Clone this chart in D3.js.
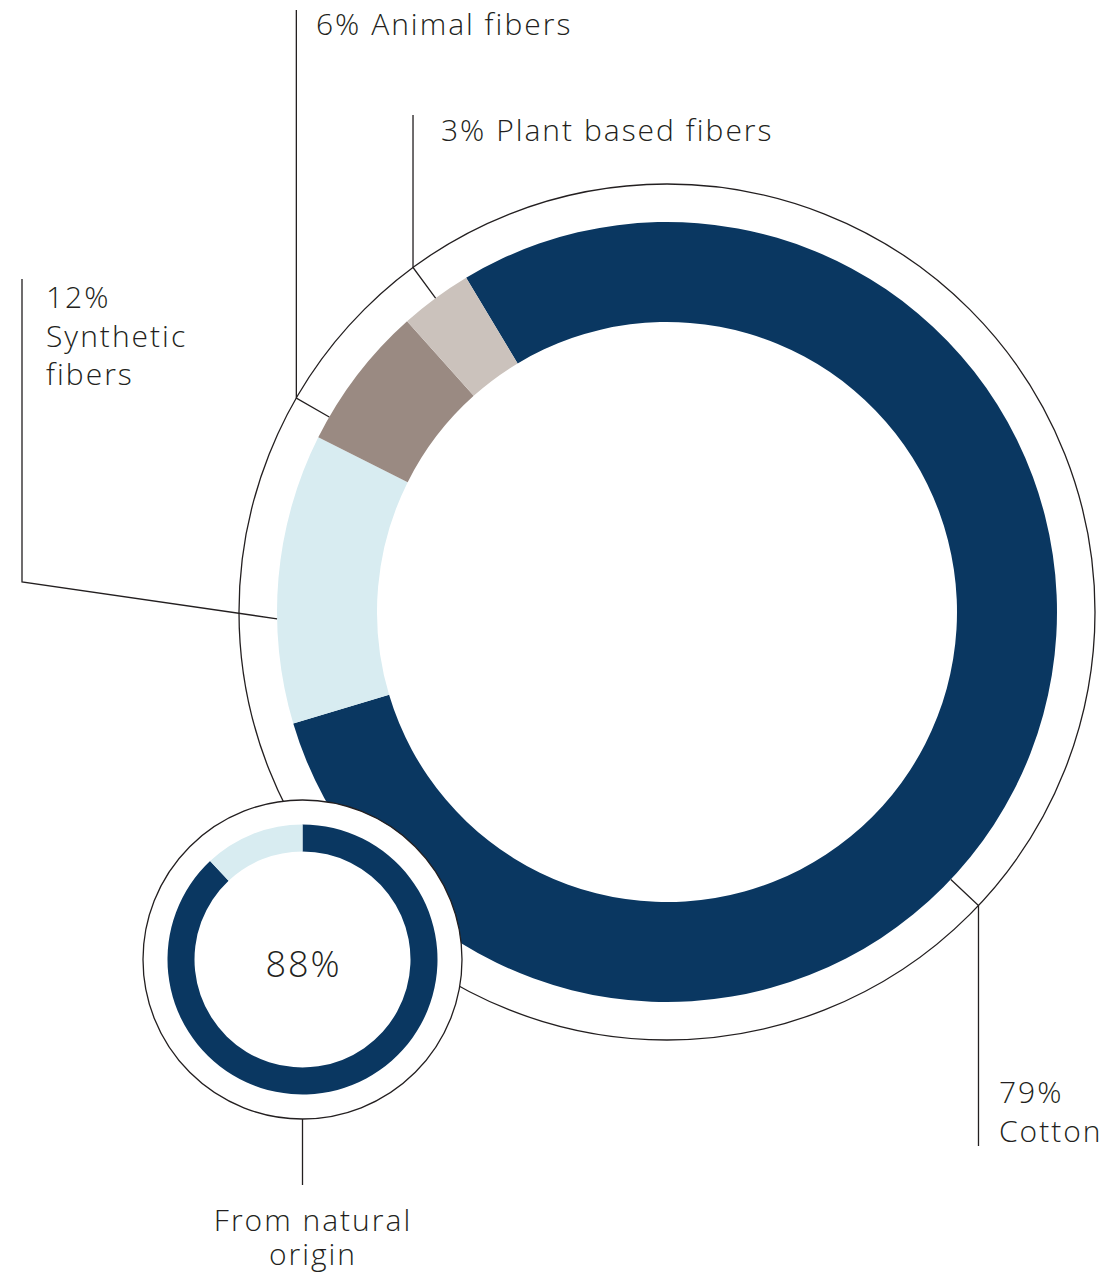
<!DOCTYPE html>
<html>
<head>
<meta charset="utf-8">
<script src="https://cdn.jsdelivr.net/npm/d3@7"></script>
<style>
  html, body { margin: 0; padding: 0; background: #fff; }
  text { font-family: "Open Sans", Lato, sans-serif; font-weight: 300; fill: #231f20; letter-spacing: 2px; }
</style>
</head>
<body>
<div id="chart"></div>
<script>
// fibre mix (%), clockwise from the cotton start
const categories = ['Cotton', 'Synthetic fibers', 'Animal fibers', 'Plant based fibers'];
const shares = [79, 12, 6, 3];
const colors = ['#0a3761', '#d8ecf1', '#9a8a82', '#cbc2bc'];

// natural origin share
const naturalLabels = ['Natural', 'Other'];
const naturalShares = [88, 12];
const naturalColors = ['#0a3761', '#d8ecf1'];

// label texts and where the leaders sit (angle in degrees, d3 convention)
const labelLines = [['79%', 'Cotton'], ['12%', 'Synthetic', 'fibers'], ['6% Animal fibers'], ['3% Plant based fibers']];
const leaders = [
  { angle: 133.3, elbowX: null, endY: 1146, tx: 999, ty: 1103 },
  { angle: 269, elbowX: 22, elbowY: 582, endY: 279, tx: 46, ty: 308 },
  { angle: 300, elbowX: null, endY: 10, tx: 316, ty: 35 },
  { angle: 323.6, elbowX: null, endY: 115, tx: 441, ty: 141 }
];

const W = 1113, H = 1274;
const cx = 667, cy = 612;
const rOuter = 390, rInner = 290, rRing = 428;
const sx = 302.5, sy = 959.5;
const sOuter = 135, sInner = 108, sRing = 159.5;
const lineH = 38.5;
const ink = '#231f20';

const rad = d => d * Math.PI / 180;
const polar = (r, a) => [cx + r * Math.sin(rad(a)), cy - r * Math.cos(rad(a))];

const svg = d3.select('#chart').append('svg')
  .attr('width', W).attr('height', H);

// thin ring round the main donut
svg.append('circle')
  .attr('cx', cx).attr('cy', cy).attr('r', rRing)
  .attr('fill', 'none').attr('stroke', ink).attr('stroke-width', 1.3);

const pie = d3.pie().sort(null).startAngle(rad(-31)).endAngle(rad(329));
const arc = d3.arc().innerRadius(rInner).outerRadius(rOuter);

svg.append('g')
  .attr('transform', 'translate(' + cx + ',' + cy + ')')
  .selectAll('path')
  .data(pie(shares))
  .join('path')
  .attr('d', arc)
  .attr('fill', (d, i) => colors[i]);

// leader lines
leaders.forEach((l, i) => {
  const p0 = polar(rOuter, l.angle);
  let p1;
  if (l.elbowX === null) p1 = polar(rRing, l.angle);
  else p1 = [l.elbowX, l.elbowY];
  const p2 = [p1[0], l.endY];
  svg.append('path')
    .attr('d', d3.line()([p0, p1, p2]))
    .attr('fill', 'none').attr('stroke', ink).attr('stroke-width', 1.3);

  const t = svg.append('text')
    .attr('x', l.tx).attr('y', l.ty)
    .attr('font-size', 30);
  labelLines[i].forEach((s, j) => {
    t.append('tspan').attr('x', l.tx).attr('y', l.ty + j * lineH).text(s);
  });
});

// small donut: natural origin
svg.append('circle')
  .attr('cx', sx).attr('cy', sy).attr('r', sRing)
  .attr('fill', '#fff').attr('stroke', ink).attr('stroke-width', 1.3);

const sArc = d3.arc().innerRadius(sInner).outerRadius(sOuter);
svg.append('g')
  .attr('transform', 'translate(' + sx + ',' + sy + ')')
  .selectAll('path')
  .data(d3.pie().sort(null)(naturalShares))
  .join('path')
  .attr('d', sArc)
  .attr('fill', (d, i) => naturalColors[i]);

svg.append('text')
  .attr('x', sx + 1).attr('y', sy + 17)
  .attr('text-anchor', 'middle')
  .attr('font-size', 36)
  .text(naturalShares[0] + '%');

svg.append('line')
  .attr('x1', sx).attr('x2', sx)
  .attr('y1', sy + sRing).attr('y2', 1185)
  .attr('stroke', ink).attr('stroke-width', 1.3);

['From natural', 'origin'].forEach((s, j) => {
  svg.append('text')
    .attr('text-anchor', 'middle')
    .attr('font-size', 30)
    .attr('x', 313).attr('y', 1231 + j * 34)
    .text(s);
});
</script>
</body>
</html>
